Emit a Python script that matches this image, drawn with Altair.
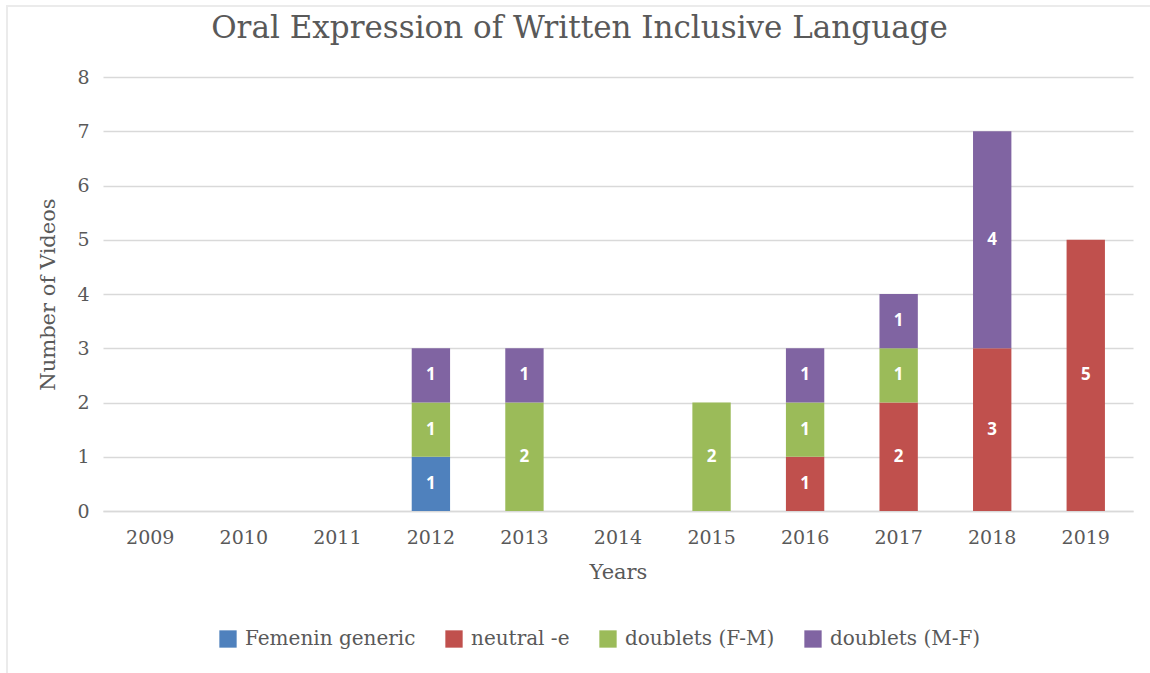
import altair as alt
import pandas as pd

years = ["2009", "2010", "2011", "2012", "2013", "2014", "2015", "2016", "2017", "2018", "2019"]
series = ["Femenin generic", "neutral -e", "doublets (F-M)", "doublets (M-F)"]
colors = ["#4F81BD", "#C0504D", "#9BBB59", "#8064A2"]
femenin_generic = [0, 0, 0, 1, 0, 0, 0, 0, 0, 0, 0]
neutral_e = [0, 0, 0, 0, 0, 0, 0, 1, 2, 3, 5]
doublets_fm = [0, 0, 0, 1, 2, 0, 2, 1, 1, 0, 0]
doublets_mf = [0, 0, 0, 1, 1, 0, 0, 1, 1, 4, 0]
y_ticks = [0, 1, 2, 3, 4, 5, 6, 7, 8]

rows = []
for si, (name, vals) in enumerate(zip(series, [femenin_generic, neutral_e, doublets_fm, doublets_mf])):
    for y, v in zip(years, vals):
        rows.append({"Year": y, "Series": name, "Value": v, "order": si})
df = pd.DataFrame(rows)

FONT = "DejaVu Serif"
GRAY = "#595959"

base = alt.Chart(df).transform_filter("datum.Value > 0").transform_stack(
    stack="Value", as_=["y0", "y1"], groupby=["Year"], sort=[alt.SortField("order", order="ascending")]
).transform_calculate(mid="(datum.y0 + datum.y1) / 2")

x_scale = alt.Scale(domain=years, paddingInner=0.59, paddingOuter=0.3)
x_axis = alt.Axis(title="Years", labelAngle=0, labelPadding=17, titlePadding=14,
                  ticks=False, domainColor="#d9d9d9", domainWidth=1.5)
y_scale = alt.Scale(domain=[0, 8])
y_axis = alt.Axis(title="Number of Videos", values=y_ticks,
                  ticks=False, domain=False, labelPadding=14, titlePadding=18,
                  gridColor="#d9d9d9", gridWidth=1.5)

bars = base.mark_bar().encode(
    x=alt.X("Year:N", scale=x_scale, axis=x_axis),
    y=alt.Y("y0:Q", scale=y_scale, axis=y_axis),
    y2="y1:Q",
    color=alt.Color("Series:N", scale=alt.Scale(domain=series, range=colors),
                    legend=alt.Legend(title=None, orient="none", direction="horizontal",
                                      legendX=115, legendY=552, symbolType="square",
                                      symbolSize=300, symbolStrokeWidth=0, columnPadding=28,
                                      labelFontSize=20, labelFont=FONT, labelColor=GRAY,
                                      labelOffset=7, symbolOpacity=1, labelLimit=300)),
)

labels = base.mark_text(color="white", fontWeight="bold", fontSize=17, font="Open Sans").encode(
    x=alt.X("Year:N", scale=x_scale, axis=x_axis),
    y=alt.Y("mid:Q", scale=y_scale, axis=y_axis),
    text=alt.Text("Value:Q"),
)

frame_df = pd.DataFrame({"k": [0]})
left_border = alt.Chart(frame_df).mark_rule(color="#ebebeb", strokeWidth=2).encode(
    x=alt.value(-96), y=alt.value(-71), y2=alt.value(600))
top_border = alt.Chart(frame_df).mark_rule(color="#ebebeb", strokeWidth=2).encode(
    x=alt.value(-97), x2=alt.value(1050), y=alt.value(-71))

chart = (bars + labels + left_border + top_border).properties(
    width=1030, height=434,
    title=alt.Title("Oral Expression of Written Inclusive Language", fontSize=31, font=FONT,
                    fontWeight="normal", color=GRAY, offset=-40, frame="bounds", anchor="middle"),
    autosize=alt.AutoSizeParams(type="none"),
    padding={"left": 103, "top": 77, "right": 17, "bottom": 162},
).configure_axis(
    labelFont=FONT, labelFontSize=19, labelColor=GRAY,
    titleFont=FONT, titleFontSize=21, titleColor=GRAY, titleFontWeight="normal",
).configure_axisX(grid=False).configure_view(stroke=None)

chart.save("out.html", embed_options={"renderer": "svg", "actions": False})
